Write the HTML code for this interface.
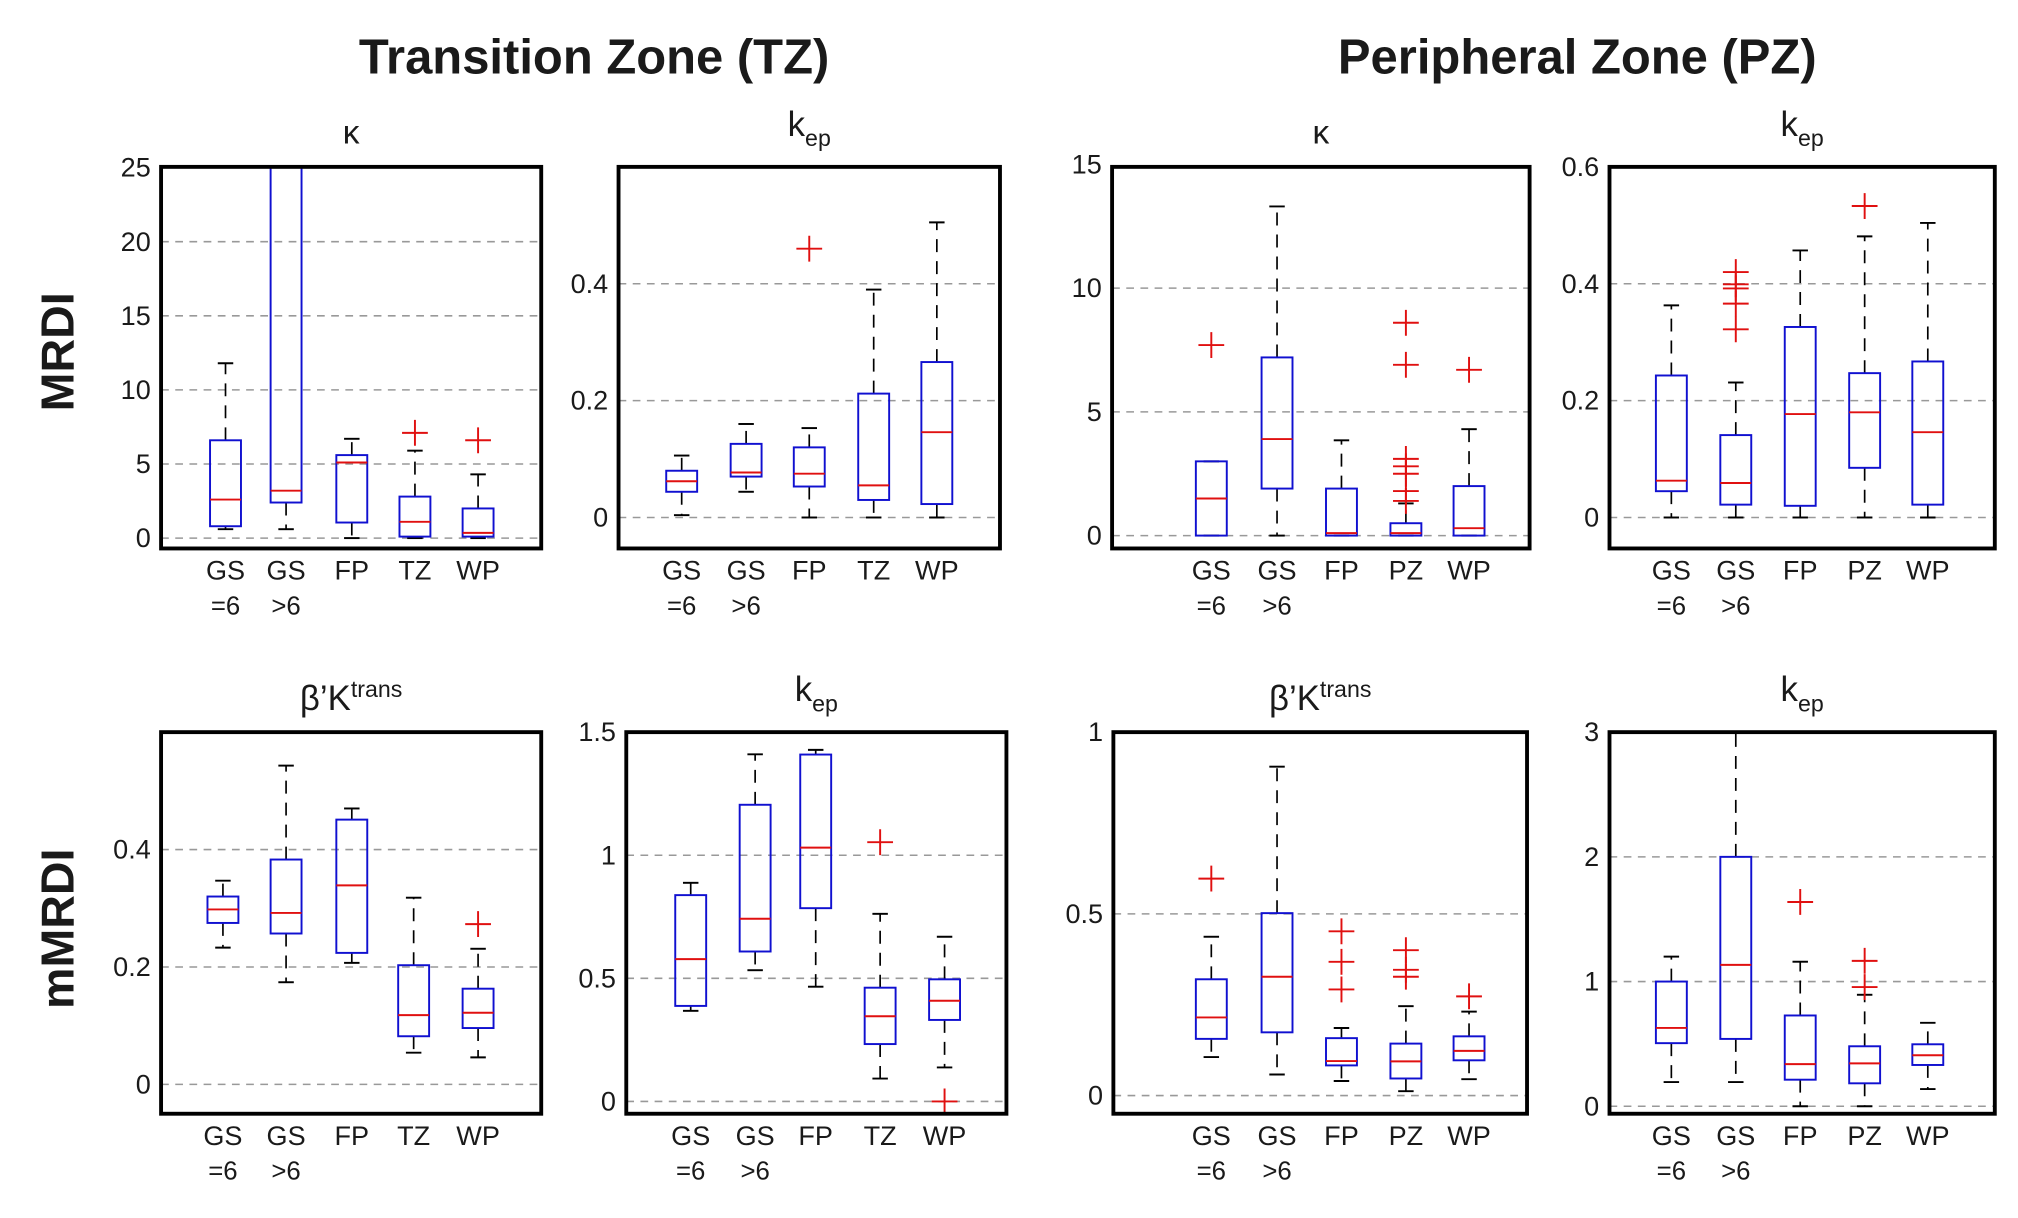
<!DOCTYPE html>
<html><head><meta charset="utf-8"><style>
html,body{margin:0;padding:0;background:#fff}
svg{display:block}
text{font-family:"Liberation Sans",sans-serif;fill:#1a1a1a}
</style></head><body>
<svg id="fig" width="2018" height="1218" viewBox="0 0 1566 941.6" preserveAspectRatio="none" xmlns="http://www.w3.org/2000/svg">
<text x="461" y="57" font-size="38" font-weight="bold" text-anchor="middle">Transition Zone (TZ)</text>
<text x="1224" y="57" font-size="38" font-weight="bold" text-anchor="middle">Peripheral Zone (PZ)</text>
<text transform="translate(57,272) rotate(-90)" font-size="36" font-weight="bold" text-anchor="middle">MRDI</text>
<text transform="translate(57,718) rotate(-90)" font-size="36" font-weight="bold" text-anchor="middle">mMRDI</text>
<g id="panels"></g>
</svg>
<script>
const catsTZ=[["GS","=6"],["GS",">6"],["FP",""],["TZ",""],["WP",""]];
const catsPZ=[["GS","=6"],["GS",">6"],["FP",""],["PZ",""],["WP",""]];

const p1_lo=[0.6,0.6,0,0,0], p1_q1=[0.8,2.4,1.05,0.1,0.1], p1_med=[2.6,3.2,5.1,1.1,0.35], p1_q3=[6.6,30,5.6,2.8,2.0], p1_hi=[11.8,30,6.7,5.9,4.3];
const p1_out=[[],[],[],[7.1],[6.6]];
const p1_ticks=[0,5,10,15,20,25];
const p2_lo=[0.004,0.044,0,0,0], p2_q1=[0.044,0.07,0.053,0.03,0.023], p2_med=[0.062,0.077,0.075,0.055,0.146], p2_q3=[0.08,0.126,0.12,0.212,0.266], p2_hi=[0.106,0.16,0.153,0.39,0.505];
const p2_out=[[],[],[0.46],[],[]];
const p2_ticks=[0,0.2,0.4];
const p3_lo=[0,0,0,0,0], p3_q1=[0,1.9,0,0,0], p3_med=[1.5,3.9,0.1,0.1,0.3], p3_q3=[3.0,7.2,1.9,0.5,2.0], p3_hi=[3.0,13.3,3.85,1.3,4.3];
const p3_out=[[7.7],[],[],[1.4,1.8,2.5,2.8,3.1,6.9,8.6],[6.7]];
const p3_ticks=[0,5,10,15];
const p4_lo=[0,0,0,0,0], p4_q1=[0.045,0.022,0.02,0.085,0.022], p4_med=[0.063,0.059,0.177,0.18,0.146], p4_q3=[0.243,0.141,0.326,0.247,0.267], p4_hi=[0.363,0.231,0.457,0.481,0.504];
const p4_out=[[],[0.322,0.366,0.392,0.399,0.42],[],[0.533],[]];
const p4_ticks=[0,0.2,0.4,0.6];
const p5_lo=[0.233,0.174,0.207,0.054,0.046], p5_q1=[0.275,0.257,0.224,0.082,0.096], p5_med=[0.298,0.292,0.339,0.118,0.122], p5_q3=[0.32,0.383,0.451,0.203,0.163], p5_hi=[0.347,0.543,0.47,0.318,0.231];
const p5_out=[[],[],[],[],[0.273]];
const p5_ticks=[0,0.2,0.4];
const p6_lo=[0.368,0.533,0.466,0.093,0.138], p6_q1=[0.388,0.609,0.785,0.233,0.331], p6_med=[0.578,0.742,1.031,0.346,0.409], p6_q3=[0.838,1.205,1.409,0.462,0.496], p6_hi=[0.888,1.41,1.428,0.762,0.669];
const p6_out=[[],[],[],[1.053],[0]];
const p6_ticks=[0,0.5,1,1.5];
const p7_lo=[0.106,0.058,0.04,0.012,0.045], p7_q1=[0.156,0.174,0.083,0.047,0.097], p7_med=[0.215,0.327,0.095,0.094,0.123], p7_q3=[0.32,0.502,0.158,0.143,0.163], p7_hi=[0.437,0.905,0.186,0.246,0.231];
const p7_out=[[0.597],[],[0.292,0.368,0.452],[0.327,0.346,0.4],[0.273]];
const p7_ticks=[0,0.5,1];
const p8_lo=[0.194,0.194,0,0,0.138], p8_q1=[0.506,0.54,0.213,0.184,0.331], p8_med=[0.628,1.134,0.338,0.344,0.409], p8_q3=[1.0,2.0,0.728,0.481,0.497], p8_hi=[1.2,3.2,1.159,0.894,0.669];
const p8_out=[[],[],[1.638],[0.956,1.166],[]];
const p8_ticks=[0,1,2,3];

const NS="http://www.w3.org/2000/svg";
const root=document.getElementById("panels");
function mk(tag,attrs,parent){const e=document.createElementNS(NS,tag);for(const k in attrs)e.setAttribute(k,attrs[k]);parent.appendChild(e);return e;}

const panels=[
 {id:"tz-kappa-mrdi",x0:125,x1:420,y0:129,y1:424,ymin:-0.7,ymax:25.05,cx:[175,222,273,322,371],cats:catsTZ,lo:p1_lo,q1:p1_q1,med:p1_med,q3:p1_q3,hi:p1_hi,out:p1_out,ticks:p1_ticks,title:"kappa"},
 {id:"tz-kep-mrdi",x0:480,x1:776,y0:129,y1:424,ymin:-0.053,ymax:0.6,cx:[529,579,628,678,727],cats:catsTZ,lo:p2_lo,q1:p2_q1,med:p2_med,q3:p2_q3,hi:p2_hi,out:p2_out,ticks:p2_ticks,title:"kep"},
 {id:"pz-kappa-mrdi",x0:863,x1:1187,y0:129,y1:424,ymin:-0.52,ymax:14.9,cx:[940,991,1041,1091,1140],cats:catsPZ,lo:p3_lo,q1:p3_q1,med:p3_med,q3:p3_q3,hi:p3_hi,out:p3_out,ticks:p3_ticks,title:"kappa"},
 {id:"pz-kep-mrdi",x0:1249,x1:1548,y0:129,y1:424,ymin:-0.053,ymax:0.6,cx:[1297,1347,1397,1447,1496],cats:catsPZ,lo:p4_lo,q1:p4_q1,med:p4_med,q3:p4_q3,hi:p4_hi,out:p4_out,ticks:p4_ticks,title:"kep"},
 {id:"tz-ktrans-mmrdi",x0:125,x1:420,y0:566,y1:861,ymin:-0.05,ymax:0.6,cx:[173,222,273,321,371],cats:catsTZ,lo:p5_lo,q1:p5_q1,med:p5_med,q3:p5_q3,hi:p5_hi,out:p5_out,ticks:p5_ticks,title:"ktrans"},
 {id:"tz-kep-mmrdi",x0:486,x1:781,y0:566,y1:861,ymin:-0.05,ymax:1.5,cx:[536,586,633,683,733],cats:catsTZ,lo:p6_lo,q1:p6_q1,med:p6_med,q3:p6_q3,hi:p6_hi,out:p6_out,ticks:p6_ticks,title:"kep"},
 {id:"pz-ktrans-mmrdi",x0:864,x1:1185,y0:566,y1:861,ymin:-0.05,ymax:1.0,cx:[940,991,1041,1091,1140],cats:catsPZ,lo:p7_lo,q1:p7_q1,med:p7_med,q3:p7_q3,hi:p7_hi,out:p7_out,ticks:p7_ticks,title:"ktrans"},
 {id:"pz-kep-mmrdi",x0:1249,x1:1548,y0:566,y1:861,ymin:-0.06,ymax:3.0,cx:[1297,1347,1397,1447,1496],cats:catsPZ,lo:p8_lo,q1:p8_q1,med:p8_med,q3:p8_q3,hi:p8_hi,out:p8_out,ticks:p8_ticks,title:"kep"}
];

panels.forEach((p,pi)=>{
 const g=mk("g",{},root);
 
 
 const ys=v=>p.y1-(v-p.ymin)/(p.ymax-p.ymin)*(p.y1-p.y0);
 const clipId="clip"+pi;
 const cp=mk("clipPath",{id:clipId},g);
 mk("rect",{x:p.x0,y:p.y0,width:p.x1-p.x0,height:p.y1-p.y0},cp);
 p.ticks.forEach(t=>{
  const y=ys(t);
  if(y>p.y0+3&&y<p.y1-3){
   const gl=mk("line",{x1:p.x0,x2:p.x1,y1:y,y2:y,stroke:"#999","stroke-width":1.2,"stroke-dasharray":"6,5"},g);
   
   
  }
  const tl=mk("text",{x:p.x0-8,y:y+7,"font-size":21,"text-anchor":"end"},g);
  
  
  tl.textContent=String(t);
 });
 const pg=mk("g",{"clip-path":"url(#"+clipId+")"},g);
 p.cx.forEach((x,i)=>{
  const hw=12, cw=6;
  const w1=mk("line",{x1:x,x2:x,y1:ys(p.q3[i]),y2:ys(p.hi[i]),stroke:"#000","stroke-width":1.3,"stroke-dasharray":"10,7"},pg);
  
  
  const w2=mk("line",{x1:x,x2:x,y1:ys(p.q1[i]),y2:ys(p.lo[i]),stroke:"#000","stroke-width":1.3,"stroke-dasharray":"10,7"},pg);
  
  
  [p.hi[i],p.lo[i]].forEach(v=>{
   const c=mk("line",{x1:x-cw,x2:x+cw,y1:ys(v),y2:ys(v),stroke:"#000","stroke-width":1.5},pg);
   
   
  });
  const b=mk("rect",{x:x-hw,y:ys(p.q3[i]),width:2*hw,height:ys(p.q1[i])-ys(p.q3[i]),fill:"none",stroke:"#1010d0","stroke-width":1.5},pg);
  
  
  const m=mk("line",{x1:x-hw,x2:x+hw,y1:ys(p.med[i]),y2:ys(p.med[i]),stroke:"#e01010","stroke-width":1.5},pg);
  
  
  p.out[i].forEach(v=>{
   const y=ys(v);
   const o=mk("path",{d:`M${x-10},${y}H${x+10}M${x},${y-10}V${y+10}`,stroke:"#e01010","stroke-width":1.5,fill:"none"},g);
   
   
  });
  const l1=mk("text",{x:x,y:p.y1+24,"font-size":21,"text-anchor":"middle"},g);
  
  
  l1.textContent=p.cats[i][0];
  if(p.cats[i][1]){
   const l2=mk("text",{x:x,y:p.y1+51,"font-size":20,"text-anchor":"middle"},g);
   
   
   l2.textContent=p.cats[i][1];
  }
 });
 const fr=mk("rect",{x:p.x0,y:p.y0,width:p.x1-p.x0,height:p.y1-p.y0,fill:"none",stroke:"#000","stroke-width":3},g);
 
 
 const cx=(p.x0+p.x1)/2;
 const t=mk("text",{x:cx,y:p.y0-18,"font-size":26,"text-anchor":"middle"},g);
 
 
 if(p.title==="kappa"){t.textContent="κ";}
 else if(p.title==="kep"){
  t.setAttribute("font-size","27");t.setAttribute("y",p.y0-24);
  t.textContent="k";
  const s=mk("tspan",{"font-size":18,dy:8},t);s.textContent="ep";
 } else {
  t.setAttribute("font-size","27");t.setAttribute("y",p.y0-17);
  t.textContent="β’K";
  const s=mk("tspan",{"font-size":18,dy:-10},t);s.textContent="trans";
 }
});
</script>
</body></html>
